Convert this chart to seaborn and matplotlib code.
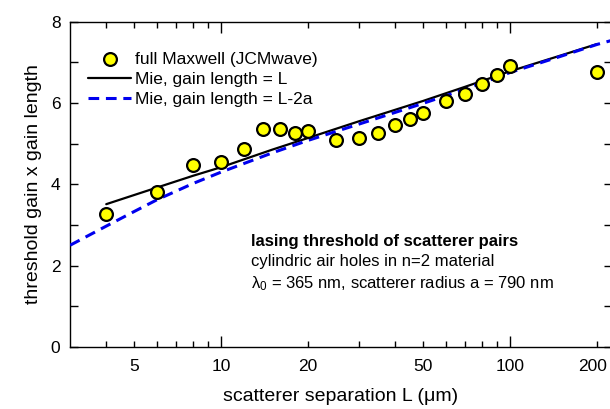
import matplotlib
matplotlib.use("Agg")
import matplotlib.pyplot as plt
import matplotlib.ticker as mticker
import matplotlib.transforms as mtransforms
import seaborn as sns
import pandas as pd

# ── data ───────────────────────────────────────────────────────────────────
sep_L      = [4, 6, 8, 10, 12, 14, 16, 18, 20, 25, 30, 35, 40, 45, 50, 60, 70, 80, 90, 100, 200]
maxwell    = [3.26, 3.80, 4.47, 4.54, 4.87, 5.37, 5.37, 5.25, 5.31, 5.09, 5.15, 5.27, 5.46,
              5.60, 5.75, 6.05, 6.23, 6.47, 6.70, 6.91, 6.77]

mie_L      = [4, 6, 8, 10, 15, 20, 30, 50, 70, 100, 150, 200]
mie_gain_L = [3.51, 3.92, 4.21, 4.42, 4.85, 5.14, 5.55, 6.05, 6.40, 6.78, 7.17, 7.45]

mie2a_L      = [3, 4, 5, 6, 8, 10, 15, 20, 30, 50, 70, 100, 150, 200, 225]
mie_gain_L2a = [2.50, 2.97, 3.33, 3.62, 4.02, 4.30, 4.77, 5.08, 5.48, 5.99, 6.34, 6.75, 7.15, 7.44, 7.54]

x_labels = {5: "5", 10: "10", 20: "20", 50: "50", 100: "100", 200: "200"}

df_pts   = pd.DataFrame({"L": sep_L, "g": maxwell})
df_mie   = pd.DataFrame({"L": mie_L, "g": mie_gain_L})
df_mie2a = pd.DataFrame({"L": mie2a_L, "g": mie_gain_L2a})

sns.set_style("ticks")
plt.rcParams["font.family"] = ["Liberation Sans", "DejaVu Sans"]
plt.rcParams["mathtext.fontset"] = "custom"
plt.rcParams["mathtext.rm"] = "Liberation Sans"
plt.rcParams["mathtext.it"] = "Liberation Sans"
plt.rcParams["text.color"] = "black"
plt.rcParams["axes.labelcolor"] = "black"

fig = plt.figure(figsize=(6.10, 4.09), dpi=100)
ax = fig.add_axes([0.115, 0.152, 0.888, 0.795])

sns.lineplot(data=df_mie, x="L", y="g", color="black", lw=1.6,
             label="Mie, gain length = L", ax=ax, zorder=2)
sns.lineplot(data=df_mie2a, x="L", y="g", color="#0000ee", lw=2.2,
             dashes=False, label="Mie, gain length = L-2a", ax=ax, zorder=3)
ax.lines[-1].set_dashes((3.5, 2.2))
sns.scatterplot(data=df_pts, x="L", y="g", color="#ffff00", edgecolor="black",
                linewidth=1.6, s=85, label="full Maxwell (JCMwave)", ax=ax, zorder=4)

ax.set_xscale("log")
ax.set_xlim(3, 225)
ax.set_ylim(0, 8)

ax.xaxis.set_major_locator(mticker.FixedLocator([10, 100]))
ax.xaxis.set_minor_locator(mticker.FixedLocator(
    [4, 5, 6, 7, 8, 9, 20, 30, 40, 50, 60, 70, 80, 90, 200]))
ax.xaxis.set_major_formatter(mticker.FuncFormatter(lambda v, p: x_labels.get(int(round(v)), "")))
ax.xaxis.set_minor_formatter(mticker.FuncFormatter(lambda v, p: x_labels.get(int(round(v)), "")))
ax.yaxis.set_major_locator(mticker.MultipleLocator(2))
ax.yaxis.set_minor_locator(mticker.MultipleLocator(1))

ax.tick_params(which="both", direction="in", top=True, right=True, labelsize=12.5,
               width=1, colors="black")
ax.tick_params(axis="x", which="major", length=8, pad=9)
ax.tick_params(axis="x", which="minor", length=4, pad=9)
ax.tick_params(axis="y", which="both", length=6, pad=7)
for s in ax.spines.values():
    s.set_linewidth(1)
    s.set_color("black")

# last label sits right at the figure edge, nudge it inward a little
last = ax.xaxis.get_minor_ticks()[-1].label1
last.set_transform(last.get_transform() + mtransforms.ScaledTranslation(-3 / 72, 0, fig.dpi_scale_trans))

ax.set_xlabel("scatterer separation L (μm)", fontsize=14, labelpad=10)
ax.set_ylabel("threshold gain x gain length", fontsize=14, labelpad=6)

h, l = ax.get_legend_handles_labels()
order = [2, 0, 1]
ax.legend([h[i] for i in order], [l[i] for i in order], loc="upper left",
          bbox_to_anchor=(0.02, 0.93), frameon=False, fontsize=12.5,
          handlelength=2.5, handletextpad=0.2, labelspacing=0.3, borderaxespad=0)

ax.text(0.333, 0.325, "lasing threshold of scatterer pairs", transform=ax.transAxes,
        fontsize=12, fontweight="bold", va="center")
ax.text(0.333, 0.262, "cylindric air holes in n=2 material", transform=ax.transAxes,
        fontsize=12, va="center")
ax.text(0.333, 0.195, r"$\mathregular{\lambda_0}$ = 365 nm, scatterer radius a = 790 nm",
        transform=ax.transAxes, fontsize=12, va="center")

fig.savefig("out.png", dpi=100)
plt.close(fig)
